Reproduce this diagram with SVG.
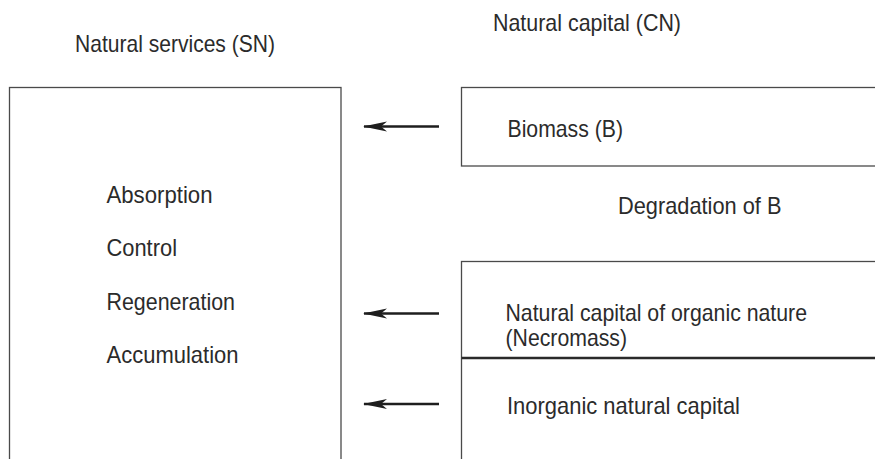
<svg xmlns="http://www.w3.org/2000/svg" width="875" height="459" viewBox="0 0 875 459">
  <style>
    text { font-family: "Liberation Sans", Arial, sans-serif; font-size: 24px; fill: #2b2b2b; }
    .box { fill: #ffffff; stroke: #4a4a4a; stroke-width: 1.3; }
    .arrow { stroke: #1e1e1e; stroke-width: 2.6; fill: none; marker-end: url(#head); }
    .divider { stroke: #2a2a2a; stroke-width: 2.5; }
  </style>
  <defs>
    <marker id="head" viewBox="0 0 24 12" refX="23" refY="6" markerWidth="24" markerHeight="12" markerUnits="userSpaceOnUse" orient="auto">
      <path d="M0,1 L24,6 L0,11 L6,6 Z" fill="#1e1e1e"/>
    </marker>
  </defs>
  <rect width="875" height="459" fill="#ffffff"/>

  <g id="title-sn">
    <text x="75" y="52" textLength="200" lengthAdjust="spacingAndGlyphs">Natural services (SN)</text>
  </g>
  <g id="title-cn">
    <text x="493" y="31" textLength="188" lengthAdjust="spacingAndGlyphs">Natural capital (CN)</text>
  </g>

  <g id="services">
    <rect class="box" x="9.5" y="87.5" width="331.5" height="390"/>
    <text x="106.5" y="202.5" textLength="106" lengthAdjust="spacingAndGlyphs">Absorption</text>
    <text x="106.5" y="256" textLength="70.5" lengthAdjust="spacingAndGlyphs">Control</text>
    <text x="106.5" y="309.5" textLength="128.5" lengthAdjust="spacingAndGlyphs">Regeneration</text>
    <text x="106.5" y="363" textLength="132" lengthAdjust="spacingAndGlyphs">Accumulation</text>
  </g>

  <g id="biomass">
    <rect class="box" x="461.5" y="87.5" width="430" height="78.5"/>
    <text x="507.5" y="137" textLength="115.5" lengthAdjust="spacingAndGlyphs">Biomass (B)</text>
  </g>

  <g id="degradation">
    <text x="618" y="213.5" textLength="163.5" lengthAdjust="spacingAndGlyphs">Degradation of B</text>
  </g>

  <g id="capital">
    <rect class="box" x="461.5" y="261.5" width="430" height="220"/>
    <line class="divider" x1="461.5" y1="358" x2="875" y2="358"/>
  </g>
  <g id="necromass">
    <text x="505.5" y="321" textLength="301.5" lengthAdjust="spacingAndGlyphs">Natural capital of organic nature</text>
    <text x="505.5" y="345.5" textLength="121.5" lengthAdjust="spacingAndGlyphs">(Necromass)</text>
  </g>
  <g id="inorganic">
    <text x="507" y="414" textLength="233" lengthAdjust="spacingAndGlyphs">Inorganic natural capital</text>
  </g>

  <g id="connectors">
    <line class="arrow" x1="439" y1="126.5" x2="364" y2="126.5"/>
    <line class="arrow" x1="439" y1="313.5" x2="364" y2="313.5"/>
    <line class="arrow" x1="439" y1="404" x2="364" y2="404"/>
  </g>
</svg>
